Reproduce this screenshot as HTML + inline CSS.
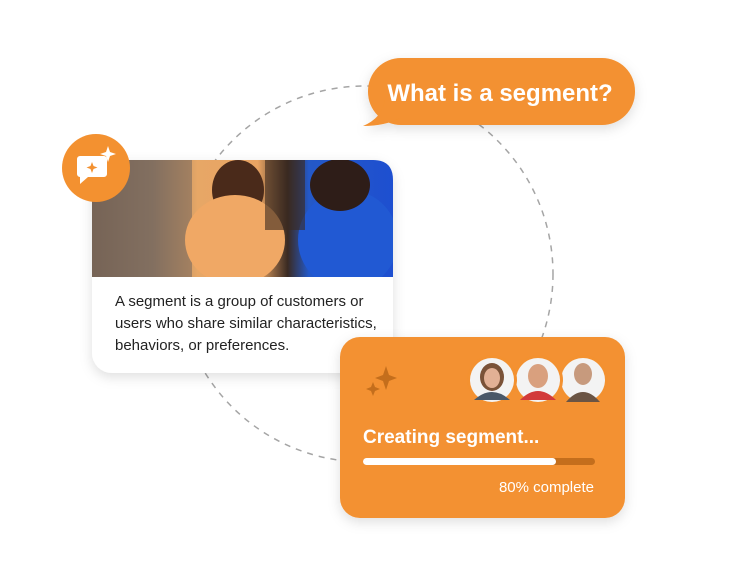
<!DOCTYPE html>
<html><head><meta charset="utf-8"><style>
body{margin:0;width:750px;height:563px;background:#fff;position:relative;overflow:hidden;font-family:"Liberation Sans",sans-serif}
.abs{position:absolute}
</style></head><body>
<svg class="abs" style="left:0;top:0" width="750" height="563">
<defs>
<filter id="sh" x="-20%" y="-20%" width="140%" height="150%"><feDropShadow dx="0" dy="4" stdDeviation="6" flood-color="#000" flood-opacity="0.13"/></filter>
<linearGradient id="img" x1="0" y1="0" x2="1" y2="0">
<stop offset="0" stop-color="#6d5a4c"/><stop offset="0.2" stop-color="#8a7664"/><stop offset="0.35" stop-color="#e7a766"/><stop offset="0.55" stop-color="#e9a463"/><stop offset="0.65" stop-color="#3a2a22"/><stop offset="0.72" stop-color="#2459c8"/><stop offset="1" stop-color="#1e4fd0"/></linearGradient>
</defs>
<circle cx="365" cy="274" r="188" fill="none" stroke="#a5a5a5" stroke-width="1.5" stroke-dasharray="6 6"/>
<g filter="url(#sh)">
<rect x="368" y="58" width="267" height="67" rx="33" fill="#F39130"/>
<path d="M385 100 Q382 118 363 126 Q385 126 400 118 Z" fill="#F39130"/>
</g>
<text x="500" y="101" text-anchor="middle" fill="#fff" font-size="24" font-weight="bold" font-family="Liberation Sans,sans-serif">What is a segment?</text>
<g filter="url(#sh)"><rect x="92" y="160" width="301" height="213" rx="20" fill="#fff"/></g>
<clipPath id="cc"><path d="M92 160 H373 Q393 160 393 180 V277 H92 Z"/></clipPath>
<g clip-path="url(#cc)">
<rect x="92" y="160" width="301" height="117" fill="url(#img)"/>
<rect x="92" y="160" width="100" height="117" fill="#7d6b5e" opacity="0.6"/>
<ellipse cx="238" cy="190" rx="26" ry="30" fill="#4a2a1a"/>
<ellipse cx="235" cy="240" rx="50" ry="45" fill="#f0a865"/>
<ellipse cx="348" cy="240" rx="50" ry="50" fill="#2159d3"/>
<ellipse cx="340" cy="185" rx="30" ry="26" fill="#2e1d18"/>
<rect x="265" y="160" width="40" height="70" fill="#3a2a20" opacity="0.6"/>
</g>
<circle cx="96" cy="168" r="34" fill="#F39130"/>
<path d="M80 156 h24 a3 3 0 0 1 3 3 v15 a3 3 0 0 1 -3 3 h-16 l-8 7 v-7 a3 3 0 0 1 -3 -3 v-15 a3 3 0 0 1 3 -3z" fill="#fff"/>
<path d="M108 146 l2 6 6 2 -6 2 -2 6 -2 -6 -6 -2 6 -2z" fill="#fff"/>
<path d="M92 162 l1.5 4 4 1.5 -4 1.5 -1.5 4 -1.5 -4 -4 -1.5 4 -1.5z" fill="#F39130"/>
<g filter="url(#sh)"><rect x="340" y="337" width="285" height="181" rx="20" fill="#F39130"/></g>
<path d="M386 366 l3 9 8 3 -8 3 -3 9 -3 -9 -8 -3 8 -3z" fill="#C46E1C"/>
<path d="M373 382 l2 5 5 2 -5 2 -2 5 -2 -5 -5 -2 5 -2z" fill="#C46E1C"/>
<circle cx="583" cy="380" r="25" fill="#F39130"/><circle cx="583" cy="380" r="22" fill="#f3f3f3"/>
<ellipse cx="583" cy="374" rx="9" ry="11" fill="#c79a7d"/><path d="M566 402 q17 -20 34 0z" fill="#6a5444"/>
<circle cx="538" cy="380" r="25" fill="#F39130"/><circle cx="538" cy="380" r="22" fill="#f3f3f3"/>
<ellipse cx="538" cy="376" rx="10" ry="12" fill="#d9a07e"/><path d="M520 400 q18 -18 36 0z" fill="#d23a3a"/>
<circle cx="492" cy="380" r="25" fill="#F39130"/><circle cx="492" cy="380" r="22" fill="#f3f3f3"/>
<ellipse cx="492" cy="377" rx="12" ry="14" fill="#7a5238"/><ellipse cx="492" cy="378" rx="8" ry="10" fill="#e2b095"/><path d="M474 400 q18 -16 36 0z" fill="#4a5868"/>
<text x="363" y="443" fill="#fff" font-size="19" font-weight="bold" font-family="Liberation Sans,sans-serif">Creating segment...</text>
<rect x="363" y="458" width="232" height="7" rx="3.5" fill="#C46E1C"/>
<rect x="363" y="458" width="193" height="7" rx="3.5" fill="#fff"/>
<text x="594" y="492" text-anchor="end" fill="#fff" font-size="15" font-family="Liberation Sans,sans-serif">80% complete</text>
</svg>
<div class="abs" style="left:115px;top:291px;width:275px;font-size:15px;line-height:22px;color:#222">A segment is a group of customers or users who share similar characteristics, behaviors, or preferences.</div>
</body></html>
